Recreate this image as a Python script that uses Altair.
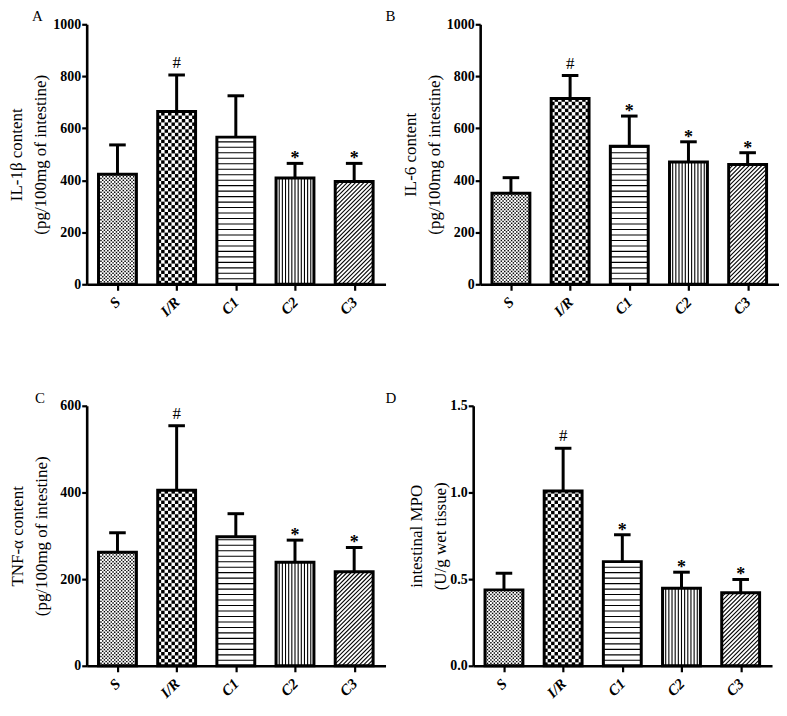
import json
import math
import altair as alt
import pandas as pd

SERIF = "Liberation Serif"

GROUPS = ["S", "I/R", "C1", "C2", "C3"]
POS = [0, 1, 2, 3, 4]
PATTERNS = ["fine_checker", "checker", "hlines", "vlines", "diag"]

IL1B_MEAN = [423, 665, 566, 409, 395]
IL1B_UPPER = [536, 805, 725, 465, 465]
IL1B_SIG = ["", "#", "", "*", "*"]

IL6_MEAN = [350, 715, 531, 470, 461]
IL6_UPPER = [410, 803, 647, 548, 506]
IL6_SIG = ["", "#", "*", "*", "*"]

TNF_MEAN = [262, 405, 298, 239, 217]
TNF_UPPER = [307, 554, 351, 290, 273]
TNF_SIG = ["", "#", "", "*", "*"]

MPO_MEAN = [0.438, 1.009, 0.601, 0.448, 0.421]
MPO_UPPER = [0.534, 1.255, 0.756, 0.540, 0.498]
MPO_SIG = ["", "#", "*", "*", "*"]

W, H = 300, 261
XMIN, XMAX = -0.52, 4.53
BAR_HALF = 0.32
CAP_HALF = 0.14


def build_panel(letter, means, uppers, sigs, ymax, ticks, fmt, title_lines,
                letter_dx, title_pad):
    ppx = W / (XMAX - XMIN)
    ppy = H / ymax

    bars = pd.DataFrame({
        "x": [p - BAR_HALF for p in POS],
        "x2": [p + BAR_HALF for p in POS],
        "xc": POS,
        "y": means,
        "y2": [0] * len(POS),
        "top": uppers,
        "cl": [p - CAP_HALF for p in POS],
        "cr": [p + CAP_HALF for p in POS],
        "sig": sigs,
    })

    cells = []
    lines = []
    for p, m, pat in zip(POS, means, PATTERNS):
        x0 = p - BAR_HALF
        bw_px = 2 * BAR_HALF * ppx
        bh_px = m * ppy
        if pat in ("fine_checker", "checker"):
            n = 22 if pat == "fine_checker" else 11
            shrink = 0.85 if pat == "fine_checker" else 1.0
            cw = 2 * BAR_HALF / n
            c_px = bw_px / n
            ch = c_px / ppy
            nrows = int(math.ceil(bh_px / c_px))
            for r in range(nrows):
                ya = r * ch
                yb = min(ya + ch * shrink, m)
                for c in range(n):
                    if (r + c) % 2 == 0:
                        cells.append({"x": x0 + c * cw, "x2": x0 + c * cw + cw * shrink,
                                      "y": ya, "y2": yb})
        elif pat == "hlines":
            s = 5.5 / ppy
            k = 1
            while k * s < m:
                lines.append({"x": x0, "x2": x0 + 2 * BAR_HALF, "y": k * s, "y2": k * s})
                k += 1
        elif pat == "vlines":
            n = 12
            for k in range(1, n):
                xx = x0 + k * 2 * BAR_HALF / n
                lines.append({"x": xx, "x2": xx, "y": 0, "y2": m})
        elif pat == "diag":
            s = 4.2
            b = -bw_px + s / 2
            while b < bh_px:
                xs = max(0.0, -b)
                xe = min(bw_px, bh_px - b)
                if xe > xs:
                    lines.append({"x": x0 + xs / ppx, "x2": x0 + xe / ppx,
                                  "y": (xs + b) / ppy, "y2": (xe + b) / ppy})
                b += s

    cells_df = pd.DataFrame(cells)
    lines_df = pd.DataFrame(lines)

    xscale = alt.Scale(domain=[XMIN, XMAX], nice=False, zero=False)
    yscale = alt.Scale(domain=[0, ymax], nice=False, zero=True)
    xaxis = alt.Axis(values=POS, labelExpr=json.dumps(GROUPS) + "[datum.value]",
                     labelAngle=315, labelAlign="right", labelBaseline="middle",
                     labelFont=SERIF, labelFontWeight="bold", labelFontStyle="italic",
                     labelFontSize=15, labelPadding=9, labelColor="black",
                     tickSize=6, tickWidth=2.2, tickColor="black",
                     domainWidth=2.6, domainColor="black", grid=False, title=None)
    yaxis = alt.Axis(values=ticks, format=fmt, labelFont=SERIF, labelFontWeight="bold",
                     labelFontSize=14, labelPadding=1, labelColor="black",
                     tickSize=5, tickWidth=2.2, tickColor="black",
                     domainWidth=2.6, domainColor="black", grid=False,
                     title=title_lines, titleFont=SERIF, titleFontWeight="normal",
                     titleFontSize=17, titleLineHeight=24, titleColor="black",
                     titlePadding=title_pad)

    def X(field):
        return alt.X(field, type="quantitative", scale=xscale, axis=xaxis)

    def Y(field):
        return alt.Y(field, type="quantitative", scale=yscale, axis=yaxis)

    base_fill = alt.Chart(bars).mark_rect(fill="white", stroke=None).encode(
        x=X("x"), x2="x2", y=Y("y"), y2="y2")
    checker = alt.Chart(cells_df).mark_rect(fill="black", stroke=None).encode(
        x=X("x"), x2="x2", y=Y("y"), y2="y2")
    hatch = alt.Chart(lines_df).mark_rule(color="black", strokeWidth=1.1).encode(
        x=X("x"), x2="x2", y=Y("y"), y2="y2")
    outline = alt.Chart(bars).mark_rect(fillOpacity=0, stroke="black", strokeWidth=3).encode(
        x=X("x"), x2="x2", y=Y("y"), y2="y2")
    stem = alt.Chart(bars).mark_rule(color="black", strokeWidth=3).encode(
        x=X("xc"), y=Y("y"), y2="top")
    cap = alt.Chart(bars).mark_rule(color="black", strokeWidth=3).encode(
        x=X("cl"), x2="cr", y=Y("top"))
    hash_txt = alt.Chart(bars).transform_filter("datum.sig == '#'").mark_text(
        font=SERIF, fontSize=17, baseline="alphabetic", dy=-7, color="black").encode(
        x=X("xc"), y=Y("top"), text="sig:N")
    star_txt = alt.Chart(bars).transform_filter("datum.sig == '*'").mark_text(
        font=SERIF, fontSize=18, fontWeight="bold", baseline="alphabetic", dy=1, color="black").encode(
        x=X("xc"), y=Y("top"), text="sig:N")

    return alt.layer(base_fill, checker, hatch, outline, stem, cap, hash_txt, star_txt).properties(
        width=W, height=H,
        title=alt.TitleParams(letter, anchor="start", frame="group", dx=letter_dx, font=SERIF,
                              fontSize=15, fontWeight="normal", color="black", offset=-7))


pA = build_panel("A", IL1B_MEAN, IL1B_UPPER, IL1B_SIG, 1000, [0, 200, 400, 600, 800, 1000], "d",
                 ["IL-1β content", "(pg/100mg of intestine)"], -55, 3)
pB = build_panel("B", IL6_MEAN, IL6_UPPER, IL6_SIG, 1000, [0, 200, 400, 600, 800, 1000], "d",
                 ["IL-6 content", "(pg/100mg of intestine)"], -95, 3)
pC = build_panel("C", TNF_MEAN, TNF_UPPER, TNF_SIG, 600, [0, 200, 400, 600], "d",
                 ["TNF-α content", "(pg/100mg of intestine)"], -52, 9)
pD = build_panel("D", MPO_MEAN, MPO_UPPER, MPO_SIG, 1.5, [0.0, 0.5, 1.0, 1.5], ".1f",
                 ["intestinal MPO", "(U/g wet tissue)"], -88, 0)

chart = alt.vconcat(
    alt.hconcat(pA, pB, spacing=0),
    alt.hconcat(pC, pD, spacing=0),
    spacing=72,
).properties(padding=0, background="white").configure_view(stroke=None)

chart.save("out.html", embed_options={"renderer": "svg", "actions": False})
